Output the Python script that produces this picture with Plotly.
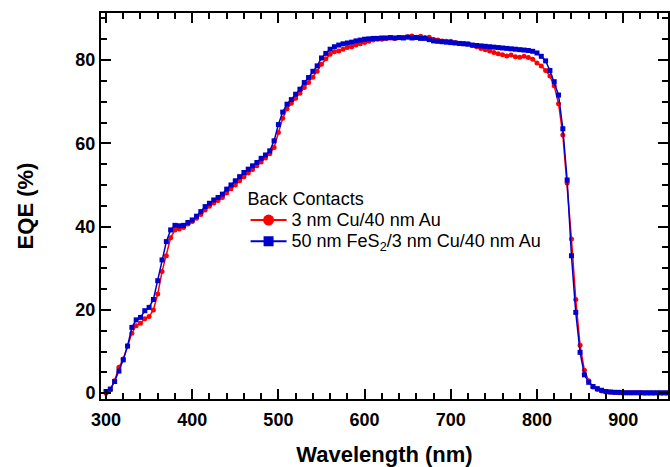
import plotly.graph_objects as go

wavelength = list(range(300, 955, 5))

eqe_cu_au = [
    0.0, 0.8, 3.0, 6.2, 8.2, 11.4, 14.4, 16.2, 16.8, 17.9,
    18.4, 20.0, 23.8, 29.2, 33.0, 37.3, 39.2, 39.4, 39.8, 40.6,
    41.2, 42.0, 42.9, 44.0, 44.9, 45.7, 46.3, 47.0, 48.1, 49.1,
    50.0, 51.0, 52.0, 52.9, 53.7, 54.6, 55.5, 56.5, 57.5, 59.0,
    62.6, 66.0, 68.3, 69.6, 70.8, 72.0, 73.4, 74.6, 75.9, 77.3,
    79.0, 80.3, 81.4, 82.0, 82.2, 82.6, 83.0, 83.2, 83.6, 83.9,
    84.2, 84.5, 84.8, 85.0, 85.0, 85.2, 85.3, 85.2, 85.4, 85.4,
    85.6, 85.8, 85.5, 85.7, 85.4, 85.5, 85.0, 84.8, 84.6, 84.5,
    84.5, 84.2, 84.0, 84.0, 83.9, 83.5, 83.2, 82.8, 82.5, 82.2,
    81.8, 81.5, 81.3, 81.0, 81.2, 80.8, 80.7, 80.9, 80.6, 80.2,
    79.3, 78.6, 77.5, 76.2, 73.8, 69.5, 62.0, 50.5, 37.0, 22.5,
    11.5, 5.5, 3.0, 1.5, 0.9, 0.5, 0.3, 0.2, 0.2, 0.1,
    0.1, 0.1, 0.1, 0.1, 0.1, 0.0, 0.0, 0.0, 0.0, 0.0,
    0.0,
]

eqe_fes2_cu_au = [
    0.4, 1.0, 2.8, 5.3, 8.0, 11.3, 15.8, 17.6, 18.2, 19.8,
    20.6, 22.5, 27.0, 32.0, 36.4, 39.2, 40.3, 40.2, 40.3, 41.0,
    41.6, 42.5, 43.6, 44.8, 45.6, 46.4, 47.0, 47.8, 49.0, 50.0,
    51.0, 52.0, 53.0, 53.8, 54.6, 55.4, 56.4, 57.2, 58.2, 60.6,
    64.5, 67.5, 69.4, 70.5, 71.8, 73.0, 74.6, 75.8, 77.3, 78.6,
    80.5, 81.6, 82.6, 83.2, 83.6, 83.9, 84.1, 84.3, 84.6, 84.8,
    85.0, 85.1, 85.2, 85.2, 85.3, 85.3, 85.4, 85.3, 85.4, 85.3,
    85.5, 85.3, 85.4, 85.2, 85.2, 84.9, 84.6, 84.5, 84.4, 84.3,
    84.2, 84.1, 84.0, 83.9, 83.8, 83.6, 83.5, 83.4, 83.3, 83.2,
    83.1, 83.0, 82.9, 82.8, 82.7, 82.6, 82.5, 82.4, 82.3, 82.1,
    81.7, 80.9, 79.8, 77.5, 74.8, 71.6, 63.5, 51.2, 33.0, 19.4,
    9.8, 4.4, 2.6, 1.6, 1.1, 0.7, 0.4, 0.3, 0.2, 0.2,
    0.1, 0.1, 0.1, 0.1, 0.1, 0.1, 0.1, 0.1, 0.1, 0.1,
    0.1,
]

series_names = ["3 nm Cu/40 nm Au", "50 nm FeS<sub>2</sub>/3 nm Cu/40 nm Au"]
legend_title = "Back Contacts"
x_title = "Wavelength (nm)"
y_title = "EQE (%)"

RED = "rgb(255,0,0)"
BLUE = "rgb(0,0,205)"
FONT = "Liberation Sans, Arial, sans-serif"
BIG = '<span style="font-size:18px">{}</span>'

fig = go.Figure()

fig.add_trace(go.Scatter(
    x=wavelength, y=eqe_cu_au, mode="lines+markers",
    line=dict(color=RED, width=1.5),
    marker=dict(symbol="circle", size=5, color=RED),
    showlegend=False,
))
fig.add_trace(go.Scatter(
    x=wavelength, y=eqe_fes2_cu_au, mode="lines+markers",
    line=dict(color=BLUE, width=1.5),
    marker=dict(symbol="square", size=5, color=BLUE),
    showlegend=False,
))
# legend entries (larger symbols as in the original legend)
fig.add_trace(go.Scatter(
    x=[None], y=[None], mode="lines+markers", name=BIG.format(series_names[0]),
    line=dict(color=RED, width=2),
    marker=dict(symbol="circle", size=11, color=RED),
))
fig.add_trace(go.Scatter(
    x=[None], y=[None], mode="lines+markers", name=BIG.format(series_names[1]),
    line=dict(color=BLUE, width=2),
    marker=dict(symbol="square", size=10, color=BLUE),
))

axis_common = dict(
    showline=True, linecolor="black", linewidth=2, mirror="allticks",
    ticks="inside", ticklen=10, tickwidth=2, tickcolor="black",
    showgrid=False, zeroline=False, automargin=False,
    tickfont=dict(family=FONT, size=18, color="black", weight="bold"),
    title_font=dict(family=FONT, size=22, color="black", weight="bold"),
)

fig.update_layout(
    width=670, height=467,
    margin=dict(l=101, r=2, t=13, b=68),
    paper_bgcolor="white", plot_bgcolor="white",
    xaxis=dict(
        range=[294.2, 952], tickmode="linear", tick0=300, dtick=100,
        minor=dict(dtick=20, tick0=300, ticks="inside", ticklen=6, tickwidth=2, tickcolor="black"),
        title=dict(text=x_title, standoff=22),
        ticklabelstandoff=3,
        **axis_common,
    ),
    yaxis=dict(
        range=[-1.4, 91.3], tickmode="linear", tick0=0, dtick=20,
        minor=dict(dtick=5, tick0=0, ticks="inside", ticklen=6, tickwidth=2, tickcolor="black"),
        title=dict(text=y_title, standoff=36),
        **axis_common,
    ),
    legend=dict(
        title=dict(text=BIG.format(legend_title), font=dict(family=FONT, size=14, color="black")),
        font=dict(family=FONT, size=14, color="black"),
        x=0.255, y=0.551, xanchor="left", yanchor="top",
        bgcolor="rgba(0,0,0,0)", borderwidth=0,
        tracegroupgap=0, itemwidth=36,
    ),
)

fig.write_html(
    "out.html",
    config={"displayModeBar": False},
    post_script="document.body.style.margin='0';document.body.style.overflow='hidden';",
)
